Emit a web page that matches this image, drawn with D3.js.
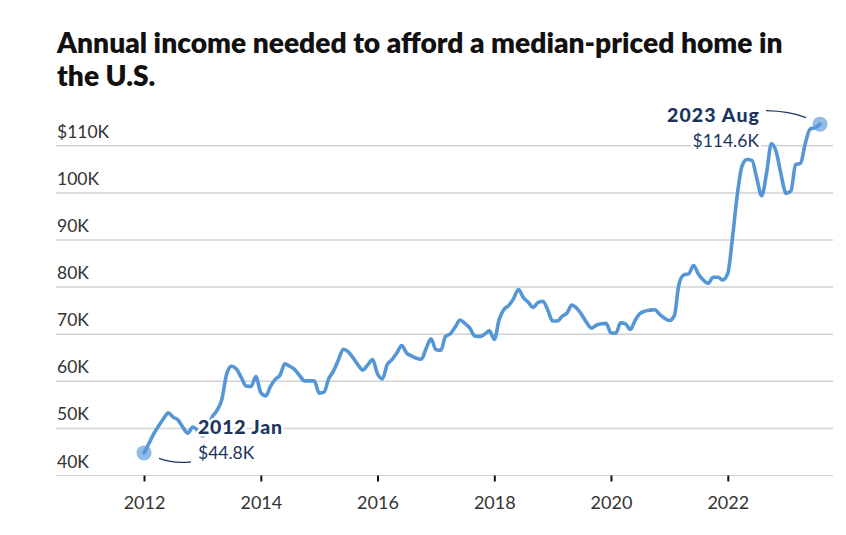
<!DOCTYPE html>
<html>
<head>
<meta charset="utf-8">
<script src="https://cdn.jsdelivr.net/npm/d3@7"></script>
<style>
  html, body { margin: 0; padding: 0; background: #fff; }
  svg { display: block; }
  text { font-family: Lato, "Open Sans", sans-serif; }
</style>
</head>
<body>
<svg id="chart" width="846" height="535"></svg>
<script>
// ---------- DATA ----------
const titleLines = ["Annual income needed to afford a median-priced home in", "the U.S."];
const startYear = 2012;
const startMonth = 0; // January
// Monthly income needed (thousands of USD), Jan 2012 .. Aug 2023
const incomeK = [
  // 2012
  44.8, 46.8, 48.8, 50.5, 52.0, 53.3, 52.4, 51.8, 50.2, 49.0, 50.3, 49.6,
  // 2013
  48.4, 49.5, 52.3, 53.8, 56.0, 61.5, 63.2, 62.6, 60.8, 59.0, 58.9, 61.0,
  // 2014
  57.6, 56.9, 58.8, 60.4, 61.3, 63.7, 63.2, 62.5, 61.2, 60.1, 60.1, 60.1,
  // 2015
  57.5, 57.7, 60.5, 62.2, 64.5, 66.8, 66.3, 65.0, 63.5, 62.4, 63.5, 64.6,
  // 2016
  61.6, 60.5, 63.5, 64.6, 66.0, 67.6, 66.0, 65.4, 64.9, 64.7, 67.0, 69.0,
  // 2017
  66.7, 66.6, 69.5, 70.1, 71.5, 73.0, 72.3, 71.3, 69.6, 69.5, 70.0, 70.7,
  // 2018
  68.9, 73.2, 75.2, 76.1, 77.5, 79.5, 77.8, 76.8, 75.7, 76.7, 77.0, 75.2,
  // 2019
  72.8, 72.8, 73.8, 74.5, 76.2, 75.5, 74.2, 72.5, 71.3, 71.9, 72.2, 72.3,
  // 2020
  70.3, 70.2, 72.4, 72.2, 71.0, 73.0, 74.4, 74.9, 75.1, 75.2, 74.2, 73.4,
  // 2021
  72.9, 74.0, 80.5, 82.6, 82.8, 84.6, 82.8, 81.5, 80.8, 82.1, 82.1, 81.5,
  // 2022
  82.9, 91.0, 99.5, 105.8, 107.1, 106.9, 103.2, 99.4, 104.3, 110.5, 108.6, 103.8,
  // 2023
  99.9, 100.5, 106.0, 106.3, 110.5, 113.6, 113.8, 114.6
];
const yTickValues = [40, 50, 60, 70, 80, 90, 100, 110];
const yTickLabels = ["40K", "50K", "60K", "70K", "80K", "90K", "100K", "$110K"];
const xTickYears = [2012, 2014, 2016, 2018, 2020, 2022];
const startLabel = ["2012 Jan", "$44.8K"];
const endLabel = ["2023 Aug", "$114.6K"];

// ---------- CHART ----------
const svg = d3.select("#chart");
const lineColor = "#5596d6";
const navy = "#1c3461";

const dates = incomeK.map((v, i) => new Date(startYear, startMonth + i, 1));
const series = incomeK.map((v, i) => ({ date: dates[i], value: v }));

const x = d3.scaleTime()
  .domain([dates[0], dates[dates.length - 1]])
  .range([144, 820]);
const y = d3.scaleLinear().domain([40, 110]).range([475.5, 145.8]);

// Title
const title = svg.append("g");
titleLines.forEach((t, i) => {
  title.append("text")
    .attr("x", 57).attr("y", 53 + i * 33)
    .attr("font-size", 24).attr("font-weight", 800)
    .attr("fill", "#111")
    .text(t);
});
{
  const t0 = title.select("text").node();
  const w = t0.getComputedTextLength();
  const fs = 24 * 726 / w;
  title.selectAll("text").attr("font-size", fs);
}

// Gridlines
const grid = svg.append("g");
grid.selectAll("line").data(yTickValues).join("line")
  .attr("x1", 56).attr("x2", 833)
  .attr("y1", d => y(d)).attr("y2", d => y(d))
  .attr("stroke", "#d2d2d2")
  .attr("stroke-width", d => d === 40 ? 1.2 : 1.5);

// Y labels
svg.append("g").selectAll("text").data(yTickValues).join("text")
  .attr("x", 57).attr("y", d => y(d) - 8)
  .attr("font-size", 17.5).attr("fill", "#333")
  .text((d, i) => yTickLabels[i]);

// X axis ticks + labels
const xAxis = d3.axisBottom(x)
  .tickValues(xTickYears.map(yr => new Date(yr, 0, 1)))
  .tickFormat(d3.timeFormat("%Y"))
  .tickSize(6).tickPadding(15);
const xg = svg.append("g").attr("transform", `translate(0,${y(40)})`).call(xAxis);
xg.select(".domain").remove();
xg.selectAll(".tick line").attr("stroke", "#111").attr("stroke-width", 2);
xg.selectAll(".tick text").attr("font-size", 18).attr("fill", "#333")
  .attr("font-family", "Lato, 'Open Sans', sans-serif");

// Line
const line = d3.line()
  .x(d => x(d.date)).y(d => y(d.value))
  .curve(d3.curveMonotoneX);
svg.append("path").datum(series)
  .attr("d", line)
  .attr("fill", "none")
  .attr("stroke", lineColor)
  .attr("stroke-width", 3.6)
  .attr("stroke-linejoin", "round")
  .attr("stroke-linecap", "round");

// End point dots
const first = series[0], last = series[series.length - 1];
svg.append("g").selectAll("circle").data([first, last]).join("circle")
  .attr("cx", d => x(d.date)).attr("cy", d => y(d.value))
  .attr("r", 7.5)
  .attr("fill", lineColor).attr("fill-opacity", 0.65);

// Annotations
function annot(lines, ax, ay, anchor, boldTarget) {
  const g = svg.append("g");
  lines.forEach((t, i) => {
    const el = g.append("text")
      .attr("x", ax).attr("y", ay + i * 24.5)
      .attr("text-anchor", anchor)
      .attr("font-size", i === 0 ? 19.5 : 17.5)
      .attr("font-weight", i === 0 ? 900 : 400)
      .attr("fill", navy)
      .attr("stroke", "#fff").attr("stroke-width", 5)
      .attr("paint-order", "stroke")
      .attr("stroke-linejoin", "round")
      .text(t);
    if (i === 0) {
      const w = el.node().getComputedTextLength();
      if (w < boldTarget) {
        const ls = (boldTarget - w) / (t.length - 1);
        el.attr("letter-spacing", ls);
        if (anchor === "end") el.attr("dx", ls);
      }
    }
  });
}
// connectors
const fx = x(first.date), fy = y(first.value);
svg.append("path")
  .attr("d", `M${fx + 15},${fy + 5.5} Q${fx + 30},${fy + 11} ${fx + 47},${fy + 9}`)
  .attr("fill", "none").attr("stroke", navy).attr("stroke-width", 1.3);
const lx = x(last.date), ly = y(last.value);
svg.append("path")
  .attr("d", `M${lx - 54},${ly - 13.5} Q${lx - 30},${ly - 13} ${lx - 14},${ly - 6.5}`)
  .attr("fill", "none").attr("stroke", navy).attr("stroke-width", 1.3);

annot(startLabel, 198, 434, "start", 84);
annot(endLabel, 759, 122, "end", 92);
</script>
</body>
</html>
